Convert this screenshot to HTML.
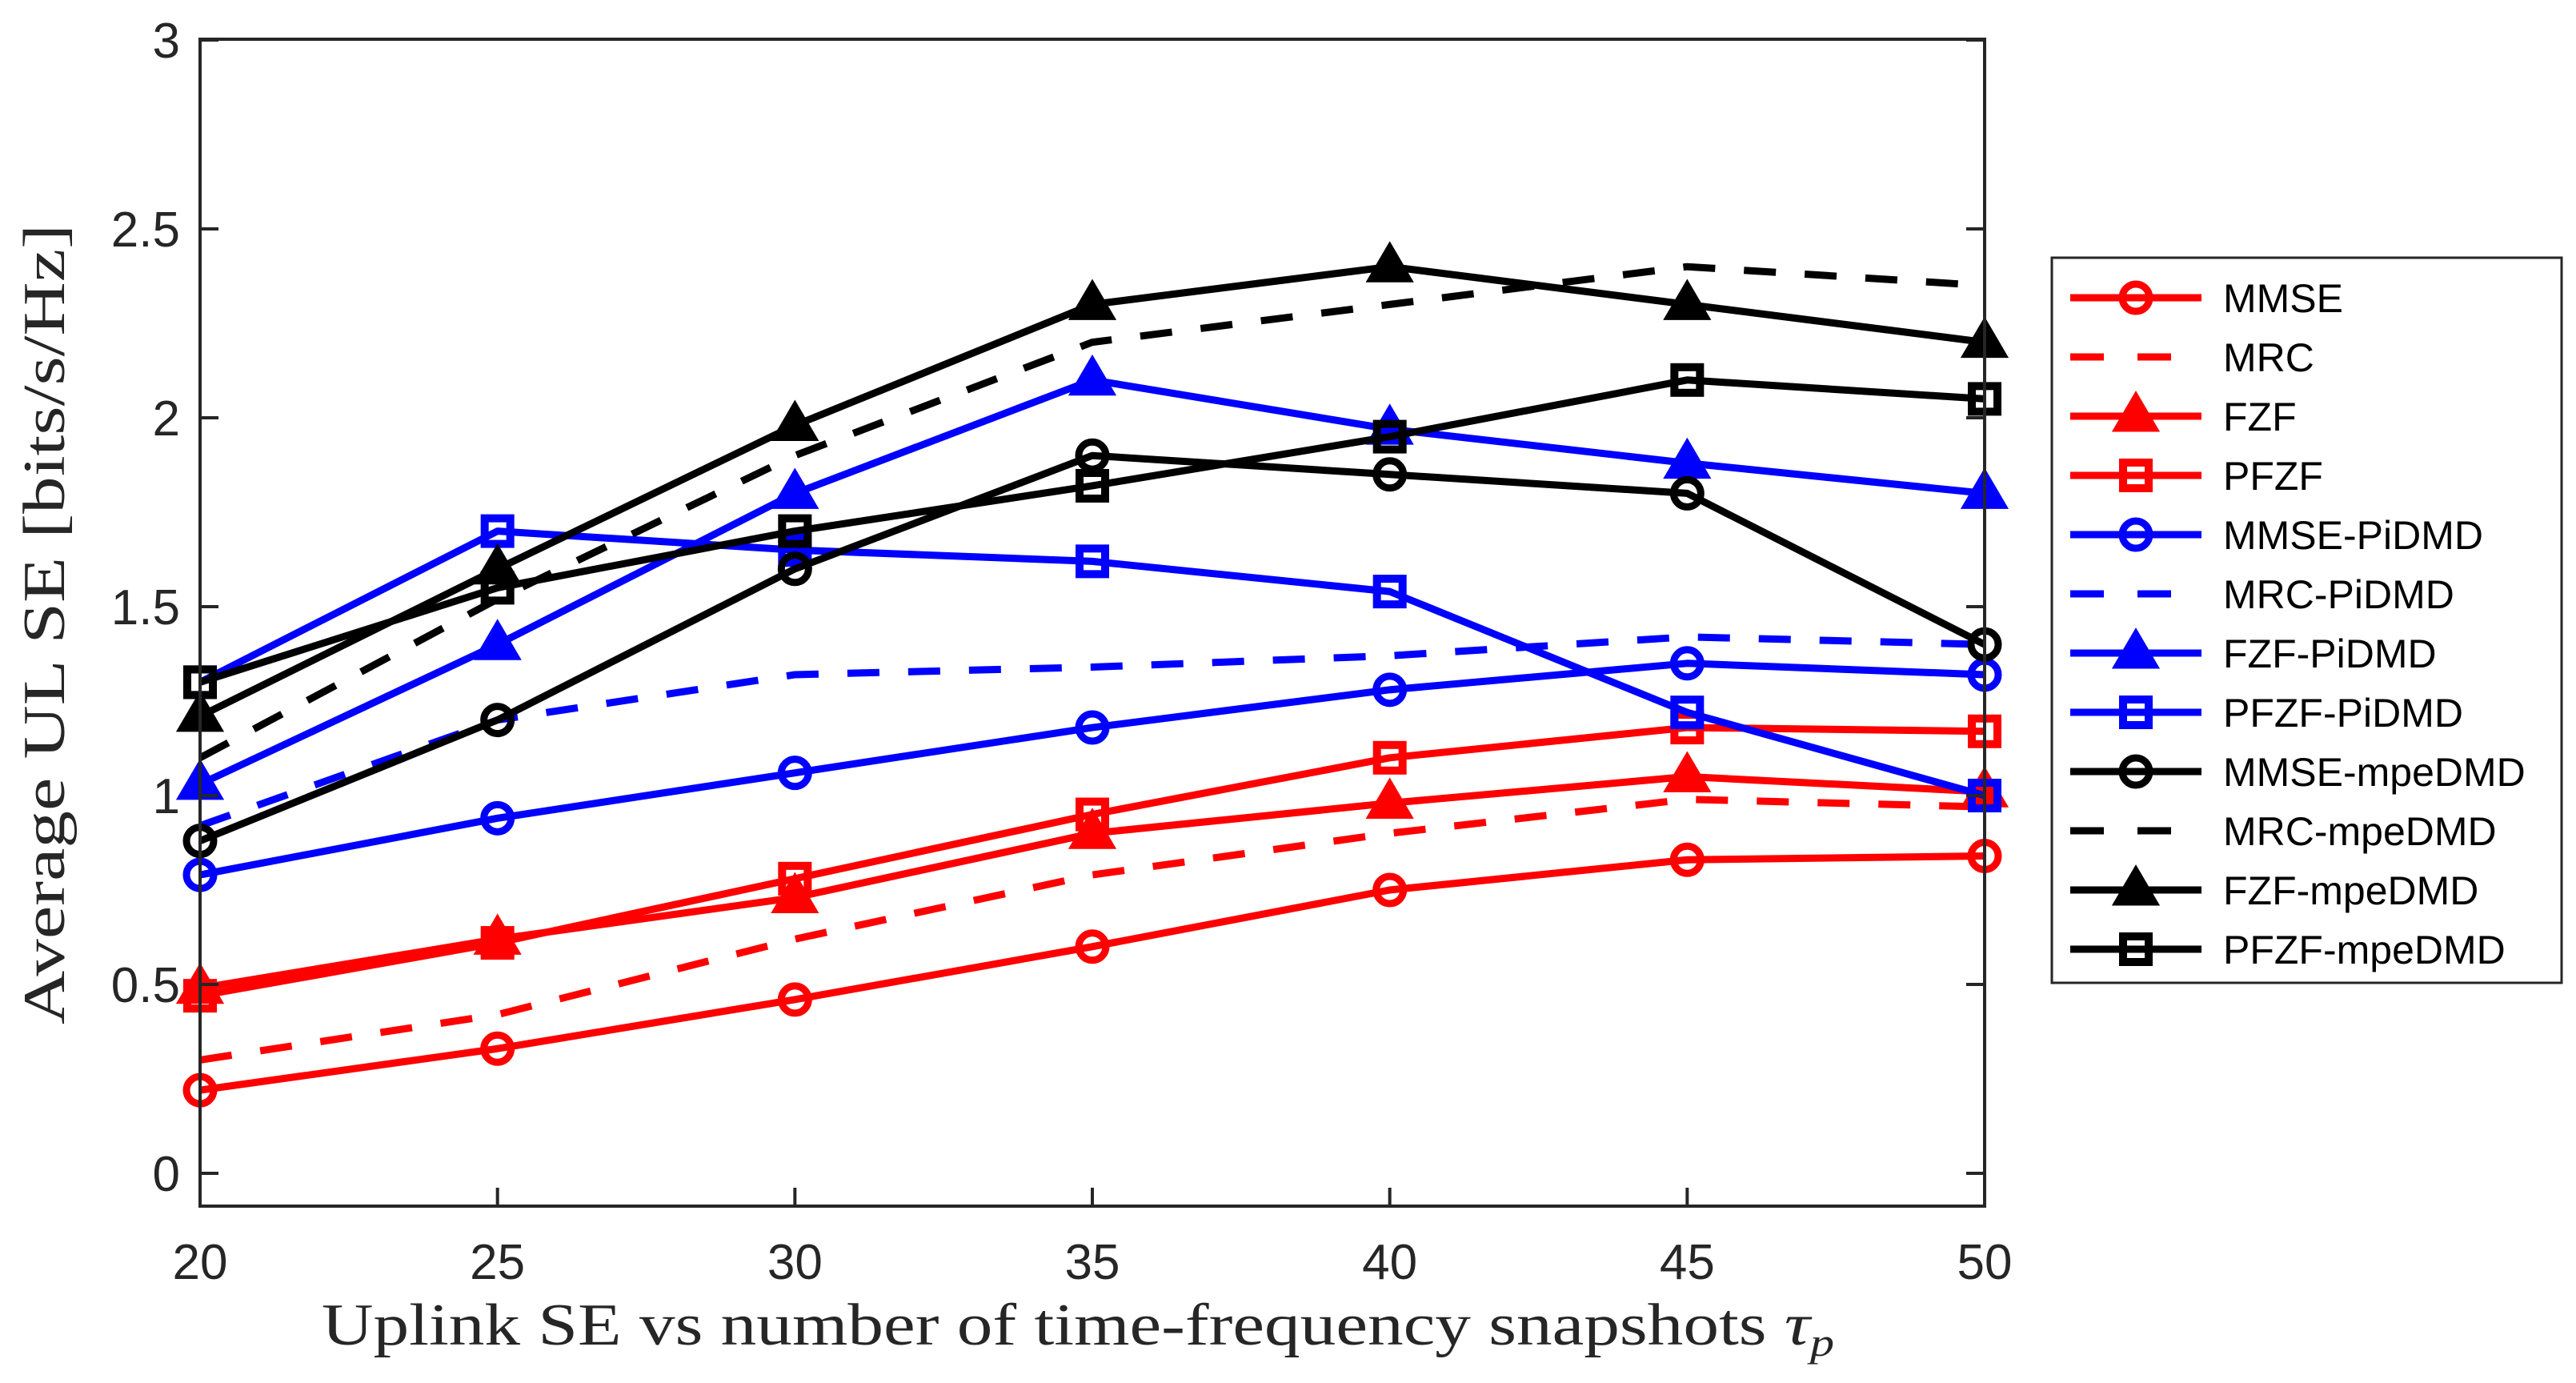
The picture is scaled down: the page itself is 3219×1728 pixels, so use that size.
<!DOCTYPE html>
<html><head><meta charset="utf-8"><style>html,body{margin:0;padding:0;background:#fff}svg{display:block}</style></head>
<body>
<svg id="chart" width="3219" height="1728" viewBox="0 0 3219 1728" xmlns="http://www.w3.org/2000/svg">
<rect x="0" y="0" width="3219" height="1728" fill="#fff"/>
<g id="plot"></g>
<rect x="250" y="49" width="2230" height="1458" fill="none" stroke="#262626" stroke-width="4"/>
<g id="axes"></g>
<text x="402" y="1680" font-family="Liberation Serif, serif" font-size="74" fill="#262626" textLength="1890" lengthAdjust="spacingAndGlyphs">Uplink SE vs number of time-frequency snapshots <tspan font-style="italic">τ</tspan><tspan font-style="italic" font-size="50" dy="14">p</tspan></text>
<text transform="translate(80,780) rotate(-90)" text-anchor="middle" font-family="Liberation Serif, serif" font-size="74" fill="#262626" textLength="1000" lengthAdjust="spacingAndGlyphs">Average UL SE [bits/s/Hz]</text>
<rect x="2564" y="322" width="637" height="906" fill="#fff" stroke="#262626" stroke-width="3"/>
<g id="legend"></g>
</svg>
<script>
const xCats = [20, 25, 30, 35, 40, 45, 50];
const yTicks = [0, 0.5, 1, 1.5, 2, 2.5, 3];
const yTickLabels = ["0", "0.5", "1", "1.5", "2", "2.5", "3"];
const seriesNames = ["MMSE","MRC","FZF","PFZF","MMSE-PiDMD","MRC-PiDMD","FZF-PiDMD","PFZF-PiDMD","MMSE-mpeDMD","MRC-mpeDMD","FZF-mpeDMD","PFZF-mpeDMD"];
const mmse = [0.22, 0.33, 0.46, 0.60, 0.75, 0.83, 0.84];
const mrc = [0.30, 0.42, 0.62, 0.79, 0.90, 0.99, 0.97];
const fzf = [0.49, 0.62, 0.73, 0.90, 0.98, 1.05, 1.01];
const pfzf = [0.47, 0.61, 0.78, 0.95, 1.10, 1.18, 1.17];
const mmsePi = [0.79, 0.94, 1.06, 1.18, 1.28, 1.35, 1.32];
const mrcPi = [0.92, 1.20, 1.32, 1.34, 1.37, 1.42, 1.40];
const fzfPi = [1.03, 1.40, 1.80, 2.10, 1.97, 1.88, 1.80];
const pfzfPi = [1.30, 1.70, 1.65, 1.62, 1.54, 1.22, 1.00];
const mmseMpe = [0.88, 1.20, 1.60, 1.90, 1.85, 1.80, 1.40];
const mrcMpe = [1.10, 1.52, 1.90, 2.20, 2.30, 2.40, 2.35];
const fzfMpe = [1.21, 1.60, 1.98, 2.30, 2.40, 2.30, 2.20];
const pfzfMpe = [1.30, 1.55, 1.70, 1.82, 1.95, 2.10, 2.05];

const NS = "http://www.w3.org/2000/svg";
const X0 = 250, X1 = 2480, Y0 = 1466, PPU = 472;
function xs(v){ return X0 + (v - 20) / 30 * (X1 - X0); }
function ys(v){ return Y0 - v * PPU; }
function mk(tag, attrs, parent){ const e = document.createElementNS(NS, tag); for (const k in attrs) e.setAttribute(k, attrs[k]); parent.appendChild(e); return e; }

const axes = document.getElementById('axes');
xCats.forEach(function(c){
  const t = mk('line', {x1: xs(c), x2: xs(c), y1: 1507, y2: 1484, stroke: '#262626', 'stroke-width': 4}, axes);
  
  
  const l = mk('text', {x: xs(c), y: 1598, 'text-anchor': 'middle', 'font-family': 'Liberation Sans, sans-serif', 'font-size': 62, fill: '#262626'}, axes);
  
  
  l.textContent = String(c);
});
yTicks.forEach(function(v, i){
  const t = mk('line', {x1: 250, x2: 273, y1: ys(v), y2: ys(v), stroke: '#262626', 'stroke-width': 4}, axes);
  
  
  const t2 = mk('line', {x1: 2480, x2: 2457, y1: ys(v), y2: ys(v), stroke: '#262626', 'stroke-width': 4}, axes);
  
  
  const l = mk('text', {x: 225, y: ys(v) + 22, 'text-anchor': 'end', 'font-family': 'Liberation Sans, sans-serif', 'font-size': 62, fill: '#262626'}, axes);
  
  
  l.textContent = yTickLabels[i];
});

const RED = '#ff0000', BLUE = '#0000ff', BLK = '#000000';
const series = [
  {d: mmse, c: RED, m: 'o', dash: false},
  {d: mrc, c: RED, m: '', dash: true},
  {d: fzf, c: RED, m: '^', dash: false},
  {d: pfzf, c: RED, m: 's', dash: false},
  {d: mmsePi, c: BLUE, m: 'o', dash: false},
  {d: mrcPi, c: BLUE, m: '', dash: true},
  {d: fzfPi, c: BLUE, m: '^', dash: false},
  {d: pfzfPi, c: BLUE, m: 's', dash: false},
  {d: mmseMpe, c: BLK, m: 'o', dash: false},
  {d: mrcMpe, c: BLK, m: '', dash: true},
  {d: fzfMpe, c: BLK, m: '^', dash: false},
  {d: pfzfMpe, c: BLK, m: 's', dash: false}
];
function marker(type, x, y, c, parent, name){
  let e = null;
  if (type === 'o') e = mk('circle', {cx: x, cy: y, r: 17, fill: 'none', stroke: c, 'stroke-width': 9}, parent);
  else if (type === '^') e = mk('polygon', {points: (x) + ',' + (y - 25) + ' ' + (x - 24) + ',' + (y + 16) + ' ' + (x + 24) + ',' + (y + 16), fill: c, stroke: c, 'stroke-width': 7, 'stroke-linejoin': 'miter'}, parent);
  else if (type === 's') e = mk('rect', {x: x - 16, y: y - 16, width: 32, height: 32, fill: 'none', stroke: c, 'stroke-width': 10}, parent);
  if (e) {
    
    
  }
}
const plot = document.getElementById('plot');
series.forEach(function(s, i){
  const g = mk('g', {}, plot);
  
  
  const pts = s.d.map(function(v, j){ return xs(xCats[j]) + ',' + ys(v); }).join(' ');
  const pl = mk('polyline', {points: pts, fill: 'none', stroke: s.c, 'stroke-width': 9, 'stroke-linejoin': 'round'}, g);
  if (s.dash) pl.setAttribute('stroke-dasharray', '40 36');
  
  
  s.d.forEach(function(v, j){ marker(s.m, xs(xCats[j]), ys(v), s.c, g, 'point-' + seriesNames[i].toLowerCase()); });
});

const leg = document.getElementById('legend');
series.forEach(function(s, i){
  const y = 372 + i * 74;
  const g = mk('g', {}, leg);
  
  
  const ln = mk('line', {x1: 2587, x2: 2751, y1: y, y2: y, stroke: s.c, 'stroke-width': 9}, g);
  if (s.dash) { ln.setAttribute('stroke-dasharray', '42 42'); ln.setAttribute('x2', 2730); }
  
  
  marker(s.m, 2669, y, s.c, g, 'legend-marker');
  const t = mk('text', {x: 2778, y: y + 18, 'font-family': 'Liberation Sans, sans-serif', 'font-size': 50, fill: '#000'}, g);
  
  
  t.textContent = seriesNames[i];
});
</script>
</body></html>
